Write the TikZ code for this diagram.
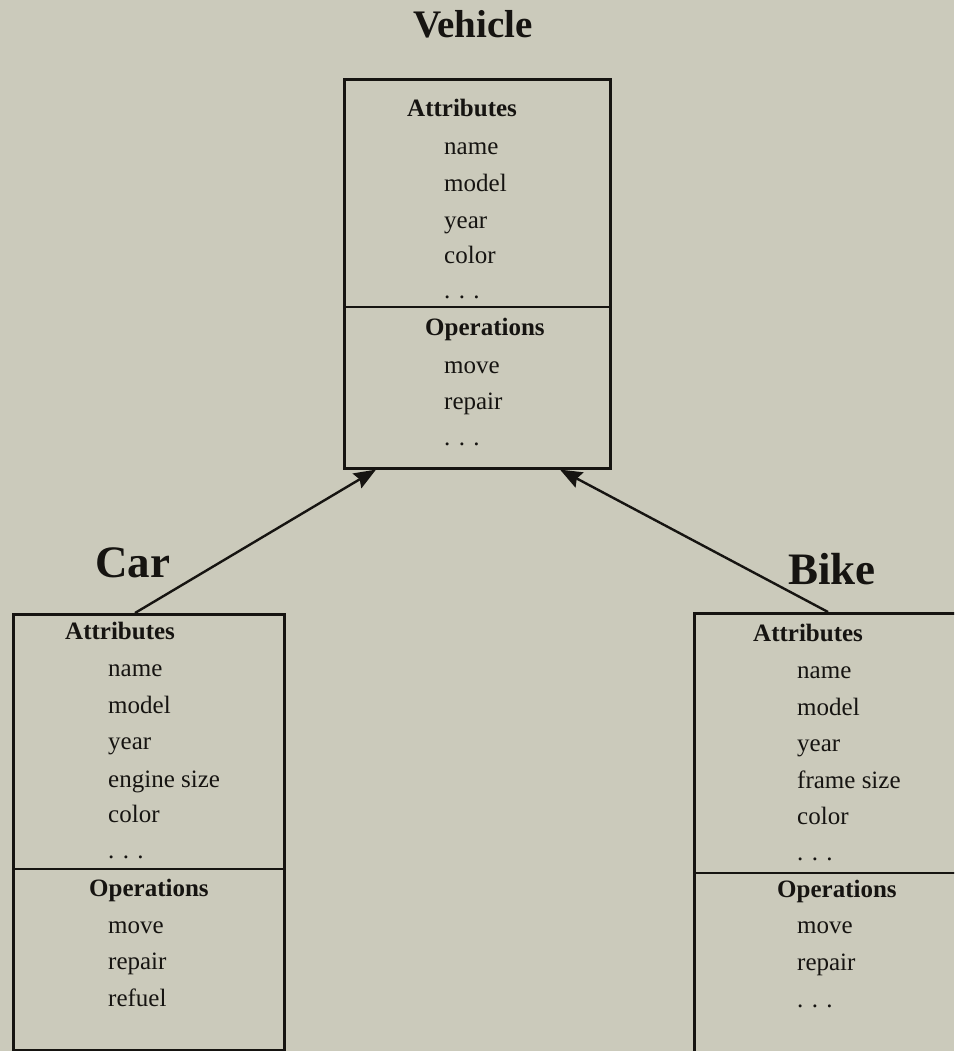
\documentclass[tikz,border=0pt]{standalone}
\usepackage{fontspec}
\setmainfont{Liberation Serif}
\usetikzlibrary{arrows.meta}
\definecolor{paper}{RGB}{203,202,187}
\definecolor{ink}{RGB}{22,20,17}
\tikzset{
  classbox/.style={draw=ink, line width=2.6pt, anchor=north west, inner sep=0pt},
  divider/.style={draw=ink, line width=2.6pt},
  title/.style={text=ink, inner sep=0pt, anchor=base west, font=\bfseries\fontsize{45}{50}\selectfont},
  heading/.style={text=ink, inner sep=0pt, anchor=base west, font=\bfseries\fontsize{25}{30}\selectfont},
  item/.style={text=ink, inner sep=0pt, anchor=base west, font=\fontsize{25}{30}\selectfont},
  inherits/.style={draw=ink, line width=2.4pt, -{Stealth[length=22pt,width=17pt,inset=3pt]}}
}
\begin{document}
\begin{tikzpicture}[x=1pt,y=-1pt]
  \useasboundingbox (0,0) rectangle (954,1051);
  \fill[paper] (0,0) rectangle (954,1051);
  \clip (0,0) rectangle (954,1051);

  % superclass
  \node[title, anchor=base, font=\bfseries\fontsize{39}{44}\selectfont] (vehicleTitle) at (473,38) {Vehicle};
  \node[classbox, minimum width=266pt, minimum height=389pt] (vehicle) at (343,78) {};
  \draw[divider] (vehicle.west |- 0,307) coordinate (vdivL) -- (vehicle.east |- 0,307) coordinate (vdivR);
  \node[heading] (vA) at (407,117) {Attributes};
  \node[item] (v1) at (444,155) {name};
  \node[item] (v2) at (444,192) {model};
  \node[item] (v3) at (444,228) {year};
  \node[item] (v4) at (444,263) {color};
  \node[item] (v5) at (444,298) {. . .};
  \node[heading] (vO) at (425,335) {Operations};
  \node[item] (v6) at (444,373) {move};
  \node[item] (v7) at (444,409) {repair};
  \node[item] (v8) at (444,445) {. . .};

  % subclass: Car
  \node[title] (carTitle) at (95,577) {Car};
  \node[classbox, minimum width=271pt, minimum height=436pt] (car) at (12,613) {};
  \draw[divider] (car.west |- 0,869) -- (car.east |- 0,869);
  \node[heading] (cA) at (65,639) {Attributes};
  \node[item] (c1) at (108,676) {name};
  \node[item] (c2) at (108,713) {model};
  \node[item] (c3) at (108,749) {year};
  \node[item] (c4) at (108,787) {engine size};
  \node[item] (c5) at (108,822) {color};
  \node[item] (c6) at (108,858) {. . .};
  \node[heading] (cO) at (89,896) {Operations};
  \node[item] (c7) at (108,933) {move};
  \node[item] (c8) at (108,969) {repair};
  \node[item] (c9) at (108,1006) {refuel};

  % subclass: Bike
  \node[title] (bikeTitle) at (788,584) {Bike};
  \node[classbox, minimum width=300pt, minimum height=480pt] (bike) at (693,612) {};
  \draw[divider] (bike.west |- 0,873) -- (bike.east |- 0,873);
  \node[heading] (bA) at (753,641) {Attributes};
  \node[item] (b1) at (797,678) {name};
  \node[item] (b2) at (797,715) {model};
  \node[item] (b3) at (797,751) {year};
  \node[item] (b4) at (797,788) {frame size};
  \node[item] (b5) at (797,824) {color};
  \node[item] (b6) at (797,860) {. . .};
  \node[heading] (bO) at (777,897) {Operations};
  \node[item] (b7) at (797,933) {move};
  \node[item] (b8) at (797,970) {repair};
  \node[item] (b9) at (797,1007) {. . .};

  % inheritance links
  \coordinate (carUp) at (car.north -| 135,0);
  \coordinate (bikeUp) at (bike.north -| 828,0);
  \coordinate (vehL) at (vehicle.south -| 376,0);
  \coordinate (vehR) at (vehicle.south -| 560,0);
  \draw[inherits] (carUp) -- (vehL);
  \draw[inherits] (bikeUp) -- (vehR);
\end{tikzpicture}
\end{document}
